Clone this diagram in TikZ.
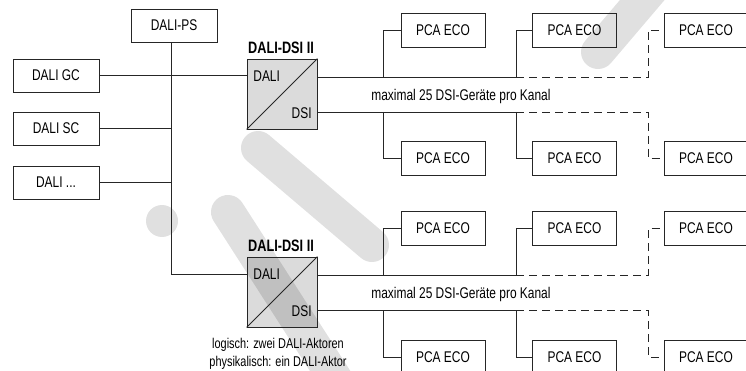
\documentclass[tikz,border=0pt]{standalone}
\usepackage{fontspec}
\setmainfont[FakeStretch=0.77]{Liberation Sans}
\definecolor{wm}{HTML}{E0E0E0}
\begin{document}
\begin{tikzpicture}[x=1pt,y=-1pt,
  line width=0.8pt,
  wmark/.style={draw=wm, line width=34pt, line cap=round},
  wire/.style={draw=black!85},
  dwire/.style={draw=black!85, dash pattern=on 8pt off 5pt},
  box/.style={draw=black!85, minimum width=86pt, minimum height=33pt, inner sep=0pt, font=\fontsize{15.5}{18}\selectfont},
  pca/.style={draw=black!85, minimum width=84pt, minimum height=34pt, inner sep=0pt, font=\fontsize{15.5}{18}\selectfont},
  conv/.style={draw=black!85, fill=black, fill opacity=0.14, text opacity=1, minimum width=70pt, minimum height=70pt, inner sep=0pt},
  lbl/.style={inner sep=0pt, font=\fontsize{15.5}{18}\selectfont},
  blbl/.style={inner sep=0pt, font=\fontsize{16.5}{18}\selectfont\bfseries},
  note/.style={inner sep=0pt, align=center, font=\fontsize{14.2}{18}\selectfont}
]
\useasboundingbox (0,0) rectangle (746,371);

% watermark (light grey, behind everything)
\begin{scope}
\clip (0,0) rectangle (746,371);
\fill[wm] (162,221) circle (16);
\draw[wmark] (228,212) -- (352,405);
\draw[wmark] (258,148) -- (372,245);
\draw[wmark] (655,-15) -- (598,52);
\end{scope}

% left column
\node[box] (ps) at (174,25.5) {DALI-PS};
\node[box] (gc) at (56,75.5) {DALI GC};
\node[box] (sc) at (56,128.5) {DALI SC};
\node[box] (dd) at (56,182.5) {DALI ...};

% converters
\node[conv] (ca) at (282,94) {};
\node[conv] (cb) at (282,292) {};
\draw[wire] (ca.south west) -- (ca.north east);
\draw[wire] (cb.south west) -- (cb.north east);
\node[blbl] (cal) at (281,48) {DALI-DSI II};
\node[blbl] (cbl) at (281,246) {DALI-DSI II};
\node[lbl, anchor=west] (cad) at (253,76.5) {DALI};
\node[lbl, anchor=east] (cas) at (312,113) {DSI};
\node[lbl, anchor=west] (cbd) at (253,274.5) {DALI};
\node[lbl, anchor=east] (cbs) at (312,311) {DSI};

% bus
\coordinate (bt) at (171,274);
\draw[wire] (ps.south -| bt) -- (bt) -- (cb.west |- bt);
\draw[wire] (gc.east) -- (ca.west |- gc.east);
\draw[wire] (sc.east) -- (sc.east -| bt);
\draw[wire] (dd.east) -- (dd.east -| bt);

% PCA boxes upper group
\node[pca] (p11) at (443,30) {PCA ECO};
\node[pca] (p12) at (574.5,30) {PCA ECO};
\node[pca] (p13) at (706,30) {PCA ECO};
\node[pca] (p21) at (443,158.5) {PCA ECO};
\node[pca] (p22) at (574.5,158.5) {PCA ECO};
\node[pca] (p23) at (706,158.5) {PCA ECO};
% lower group
\node[pca] (p31) at (443,228.5) {PCA ECO};
\node[pca] (p32) at (574.5,228.5) {PCA ECO};
\node[pca] (p33) at (706,228.5) {PCA ECO};
\node[pca] (p41) at (443,357) {PCA ECO};
\node[pca] (p42) at (574.5,357) {PCA ECO};
\node[pca] (p43) at (706,357) {PCA ECO};

% upper DALI channel
\coordinate (a1) at (383,77);
\coordinate (a2) at (516,77);
\coordinate (a3) at (648,77);
\draw[wire] (ca.east |- a1) -- (a2);
\draw[wire] (a1) |- (p11.west);
\draw[wire] (a2) |- (p12.west);
\draw[dwire] (a2) -- (a3) |- (p13.west);
% upper DSI channel
\coordinate (b1) at (383,112);
\coordinate (b2) at (516,112);
\coordinate (b3) at (648,112);
\draw[wire] (ca.east |- b1) -- (b2);
\draw[wire] (b1) |- (p21.west);
\draw[wire] (b2) |- (p22.west);
\draw[dwire] (b2) -- (b3) |- (p23.west);

% lower DALI channel
\coordinate (c1) at (383,275);
\coordinate (c2) at (516,275);
\coordinate (c3) at (648,275);
\draw[wire] (cb.east |- c1) -- (c2);
\draw[wire] (c1) |- (p31.west);
\draw[wire] (c2) |- (p32.west);
\draw[dwire] (c2) -- (c3) |- (p33.west);
% lower DSI channel
\coordinate (d1) at (383,310);
\coordinate (d2) at (516,310);
\coordinate (d3) at (648,310);
\draw[wire] (cb.east |- d1) -- (d2);
\draw[wire] (d1) |- (p41.west);
\draw[wire] (d2) |- (p42.west);
\draw[dwire] (d2) -- (d3) |- (p43.west);

% texts
\node[lbl, anchor=west] (m1) at (371,96) {maximal 25 DSI-Geräte pro Kanal};
\node[lbl, anchor=west] (m2) at (371,294) {maximal 25 DSI-Geräte pro Kanal};
\node[note] (nt) at (278,354) {logisch: zwei DALI-Aktoren\\physikalisch: ein DALI-Aktor};
\end{tikzpicture}
\end{document}
